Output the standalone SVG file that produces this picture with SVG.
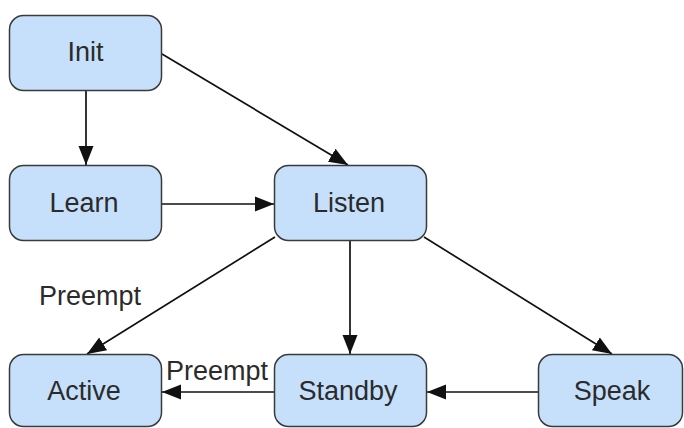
<svg xmlns="http://www.w3.org/2000/svg" width="684" height="428" viewBox="0 0 684 428">
<style>
.node rect{fill:#c6e0fb;stroke:#3a3a3a;stroke-width:1.5}
.node text,.lbl{font-family:"Liberation Sans",Arial,sans-serif;font-size:27px;fill:#2b2b2b}
.node text{text-anchor:middle}
.edge{stroke:#111;stroke-width:1.7;fill:none;marker-end:url(#ah)}
</style>
<defs>
<marker id="ah" markerUnits="userSpaceOnUse" markerWidth="22" markerHeight="18" refX="19" refY="9" orient="auto">
<path d="M0,1.5 L19,9 L0,16.5 z" fill="#111"/>
</marker>
</defs>
<rect width="684" height="428" fill="#fff"/>
<g id="connectors">
<line class="edge" x1="86" y1="91" x2="86" y2="165"/>
<line class="edge" x1="162" y1="54" x2="348" y2="165"/>
<line class="edge" x1="162" y1="204" x2="274" y2="204"/>
<line class="edge" x1="275" y1="237" x2="87" y2="354"/>
<line class="edge" x1="350" y1="241" x2="350" y2="354"/>
<line class="edge" x1="424" y1="237" x2="612" y2="354"/>
<line class="edge" x1="538" y1="392" x2="427" y2="392"/>
<line class="edge" x1="274" y1="392" x2="162" y2="392"/>
<text class="lbl" x="39" y="305">Preempt</text>
<text class="lbl" x="166" y="380">Preempt</text>
</g>
<g id="init" class="node"><rect x="9.5" y="15.5" width="152" height="75" rx="14"/><text x="85.5" y="61">Init</text></g>
<g id="learn" class="node"><rect x="9.5" y="165.5" width="152" height="75" rx="14"/><text x="84" y="212">Learn</text></g>
<g id="listen" class="node"><rect x="274.5" y="165.5" width="152" height="75" rx="14"/><text x="349" y="212">Listen</text></g>
<g id="active" class="node"><rect x="9.5" y="354.5" width="152" height="72" rx="14"/><text x="84" y="400">Active</text></g>
<g id="standby" class="node"><rect x="274.5" y="354.5" width="152" height="72" rx="14"/><text x="348" y="400">Standby</text></g>
<g id="speak" class="node"><rect x="538.5" y="354.5" width="144" height="72" rx="14"/><text x="612" y="400">Speak</text></g>
</svg>
